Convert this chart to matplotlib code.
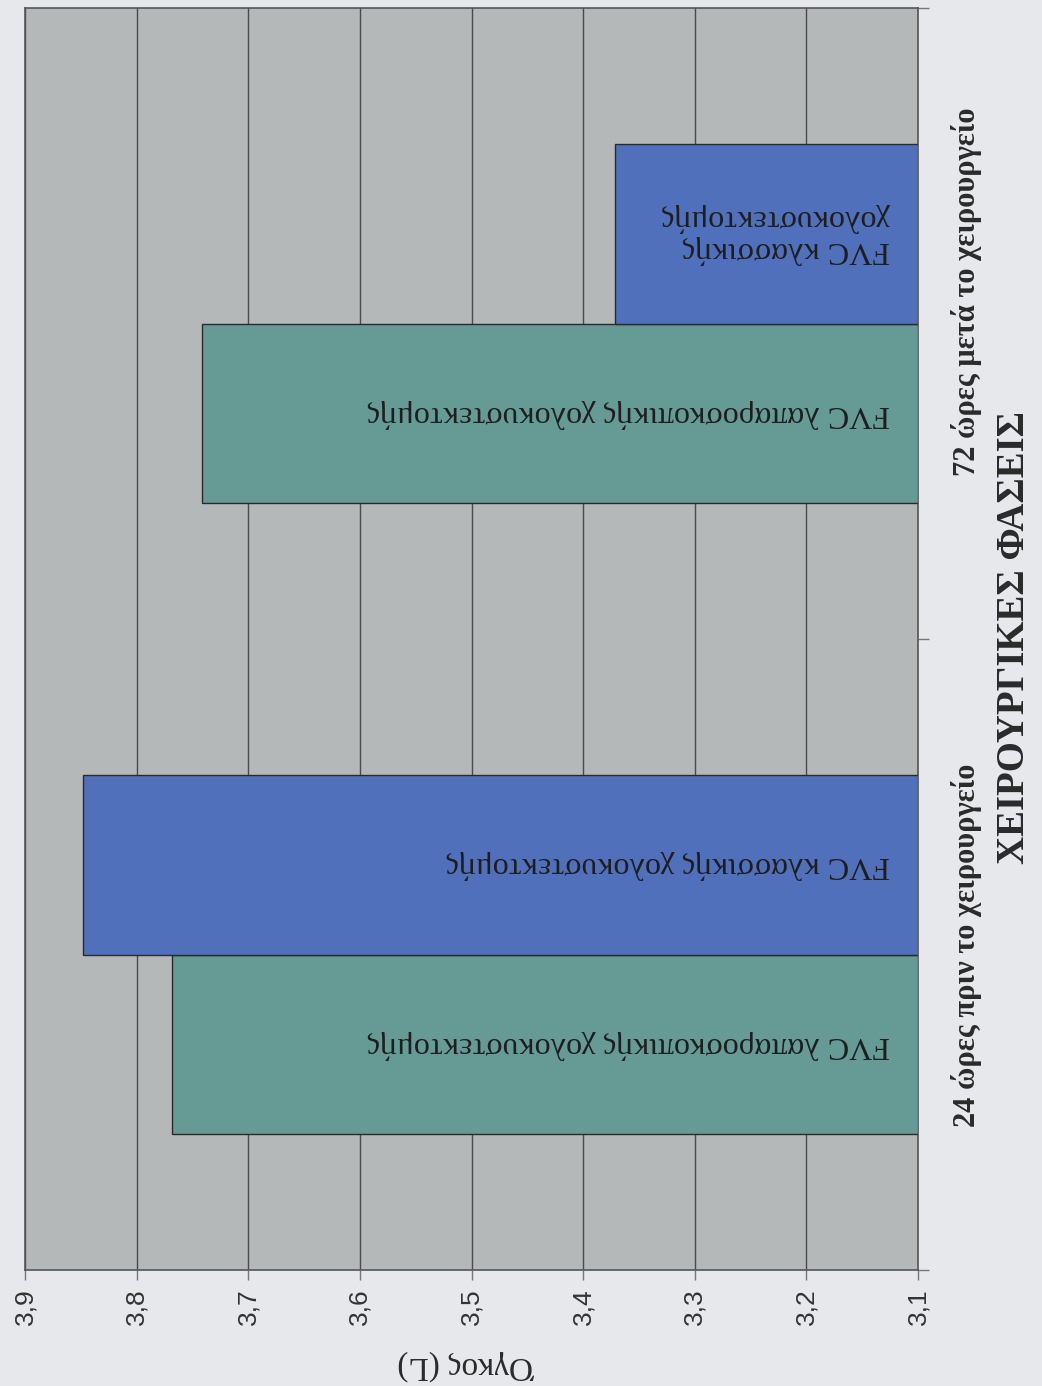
import matplotlib
matplotlib.use("Agg")
import matplotlib.pyplot as plt
import numpy as np

categories = ["24 ώρες πριν το χειρουργείο", "72 ώρες μετά το χειρουργείο"]
lap_values = [3.768, 3.741]
cla_values = [3.848, 3.371]
lap_label = "FVC λαπαροσκοπικής χολοκυστεκτομής"
cla_labels = ["FVC κλασσικής χολοκυστεκτομής", "FVC κλασσικής\nχολοκυστεκτομής"]
xticks = [3.9, 3.8, 3.7, 3.6, 3.5, 3.4, 3.3, 3.2, 3.1]
xticklabels = ["3,9", "3,8", "3,7", "3,6", "3,5", "3,4", "3,3", "3,2", "3,1"]
value_title = "Όγκος (L)"
cat_title = "ΧΕΙΡΟΥΡΓΙΚΕΣ ΦΑΣΕΙΣ"

base = 3.1
W, H = 1042, 1386
fig = plt.figure(figsize=(W / 100, H / 100), dpi=100)
fig.patch.set_facecolor("#e7e8ec")
ax = fig.add_axes([25 / W, 1 - 1270 / H, (918 - 25) / W, (1270 - 8) / H])
ax.set_facecolor("#b4b8b9")

y = np.arange(len(categories))
h = 0.285
green = "#659a95"
blue = "#5070bb"
ax.barh(y - h / 2, np.array(lap_values) - base, height=h, left=base,
        color=green, edgecolor="#2a2a2a", linewidth=1.0, zorder=3)
ax.barh(y + h / 2, np.array(cla_values) - base, height=h, left=base,
        color=blue, edgecolor="#2a2a2a", linewidth=1.0, zorder=3)

ax.set_xlim(3.9, 3.1)
ax.set_ylim(-0.5, 1.5)
ax.set_xticks(xticks)
ax.set_xticklabels(xticklabels, rotation=90, fontsize=19,
                   family=["Liberation Sans", "DejaVu Sans"], color="#333333")
ax.tick_params(axis="x", length=7, width=1, color="#777777", pad=6)
ax.grid(axis="x", color="#4a4a4a", linewidth=1.0, zorder=1)

ax.yaxis.tick_right()
ax.set_yticks(y)
ax.set_yticklabels([])
ax.set_yticks([-0.5, 0.5, 1.5], minor=True)
ax.tick_params(axis="y", which="major", length=0)
ax.tick_params(axis="y", which="minor", length=8, color="#777777", width=1)

for s in ax.spines.values():
    s.set_color("#555555")
    s.set_linewidth(1.2)

serif = ["Liberation Serif", "DejaVu Serif"]
tx = base + 0.025
for i in range(len(categories)):
    ax.text(tx, y[i] - h / 2, lap_label, rotation=180, ha="right", va="center",
            fontsize=23, family=serif, color="#1e1e1e", zorder=4)
    ax.text(tx, y[i] + h / 2, cla_labels[i], rotation=180, ha="right", va="center",
            multialignment="left", fontsize=23, family=serif, color="#1e1e1e",
            zorder=4, linespacing=1.1)

cat_y_px = [945, 292]
for i, lab in enumerate(categories):
    fig.text(966 / W, 1 - cat_y_px[i] / H, lab, rotation=90, ha="center", va="center",
             fontsize=22, fontweight="bold", family=serif, color="#2a2a2a")

fig.text(1015 / W, 1 - 637 / H, cat_title, rotation=90, ha="center", va="center",
         fontsize=28, fontweight="bold", family=serif, color="#2a2a2a")
fig.text(467 / W, 1 - 1365 / H, value_title, rotation=180, ha="center", va="center",
         fontsize=24, family=serif, color="#2a2a2a")

fig.savefig("out.png", dpi=100, facecolor=fig.get_facecolor())
